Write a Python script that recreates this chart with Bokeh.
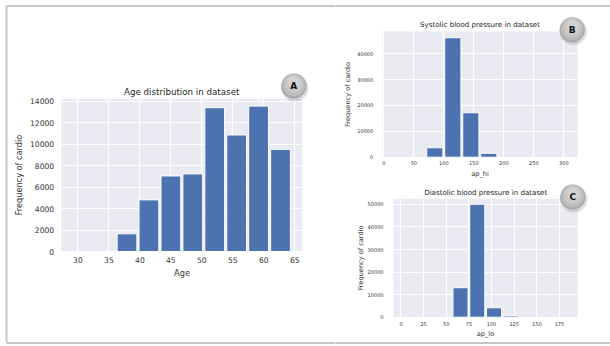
from bokeh.plotting import figure
from bokeh.layouts import row, column
from bokeh.models import Label, FixedTicker, Range1d, LinearAxis, Grid
from bokeh.core.properties import value
from bokeh.embed import file_html
from bokeh.resources import INLINE

# Age distribution (years): bin edges and counts
age_edges = [36.15, 39.69, 43.23, 46.77, 50.31, 53.85, 57.39, 60.93, 64.47]
age_counts = [1650, 4810, 7040, 7230, 13400, 10860, 13550, 9520]
age_xticks = [30, 35, 40, 45, 50, 55, 60, 65]
age_yticks = [0, 2000, 4000, 6000, 8000, 10000, 12000, 14000]

# Systolic blood pressure (ap_hi)
hi_edges = [70, 100, 130, 160, 190]
hi_counts = [3640, 46200, 17180, 1500]
hi_xticks = [0, 50, 100, 150, 200, 250, 300]
hi_yticks = [0, 10000, 20000, 30000, 40000]

# Diastolic blood pressure (ap_lo)
lo_edges = [56.5, 75, 93.5, 112, 130.5]
lo_counts = [13070, 50090, 4180, 600]
lo_xticks = [0, 25, 50, 75, 100, 125, 150, 175]
lo_yticks = [0, 10000, 20000, 30000, 40000, 50000]

BAR = "#4c72b0"
BG = "#eaeaf2"
TXT = "#333333"
FONT = "DejaVu Sans"
RULE = "#c6c6c6"


class Panel:
    """A figure whose canvas is all frame; the axes box sits at a fixed pixel rect."""

    def __init__(self, page_box, plot_box, xr, yr):
        ox, oy, W, H = page_box
        pl, pr, pt, pb = plot_box
        x0, x1 = xr
        y0, y1 = yr
        sx = (pr - pl) / (x1 - x0)
        sy = (pb - pt) / (y1 - y0)
        self.ox, self.oy, self.sx, self.sy = ox, oy, sx, sy
        self.xs = x0 - (pl - ox) / sx
        xe = x1 + (ox + W - pr) / sx
        ys = y0 - (oy + H - pb) / sy
        self.ye = y1 + (pt - oy) / sy
        self.xr, self.yr = xr, yr
        self.p = figure(width=W, height=H, output_backend="svg",
                        toolbar_location=None, title_location=None,
                        x_range=Range1d(self.xs, xe), y_range=Range1d(ys, self.ye),
                        x_axis_location=None, y_axis_location=None, min_border=0,
                        background_fill_color="white", border_fill_color="white",
                        outline_line_color=None)
        for g in list(self.p.grid):
            g.visible = False

    def at(self, px, py):
        """Page pixel -> data coordinates of this panel."""
        return (self.xs + (px - self.ox) / self.sx,
                self.ye - (py - self.oy) / self.sy)

    def axes(self, xticks, yticks, xlabel, tick_fs, label_fs, stand):
        p = self.p
        (x0, x1), (y0, y1) = self.xr, self.yr
        p.quad(left=[x0], right=[x1], bottom=[y0], top=[y1],
               fill_color=BG, line_color=None, level="image")
        for dim, ticks, bounds, cross in ((0, xticks, (x0, x1), (y0, y1)),
                                          (1, yticks, (y0, y1), (x0, x1))):
            p.add_layout(Grid(dimension=dim, ticker=FixedTicker(ticks=ticks),
                              bounds=bounds, cross_bounds=cross,
                              grid_line_color="white", grid_line_width=1.2))
        xa = LinearAxis(fixed_location=y0, bounds=(x0, x1),
                        ticker=FixedTicker(ticks=xticks), axis_label=xlabel)
        ya = LinearAxis(fixed_location=x0, bounds=(y0, y1),
                        ticker=FixedTicker(ticks=yticks),
                        axis_label="Frequency of cardio")
        for ax in (xa, ya):
            ax.axis_line_color = None
            ax.major_tick_line_color = None
            ax.minor_tick_line_color = None
            ax.major_tick_out = 0
            ax.major_tick_in = 0
            ax.major_label_text_font = FONT
            ax.major_label_text_font_size = tick_fs
            ax.major_label_text_color = TXT
            ax.axis_label_text_font = FONT
            ax.axis_label_text_font_size = label_fs
            ax.axis_label_text_font_style = "normal"
            ax.axis_label_text_color = TXT
        xa.major_label_standoff = stand["xtick"]
        ya.major_label_standoff = stand["ytick"]
        xa.axis_label_standoff = stand["xlab"]
        ya.axis_label_standoff = stand["ylab"]
        p.add_layout(xa, "below")
        p.add_layout(ya, "left")

    def title(self, text, px, py, fs):
        x, y = self.at(px, py)
        self.p.add_layout(Label(x=x, y=y, text=text, text_font=FONT,
                                text_font_size=fs, text_color="#262626",
                                text_align="center", text_baseline="middle"))

    def bars(self, edges, counts, rwidth=0.9):
        lefts, rights = [], []
        for i in range(len(counts)):
            w = edges[i + 1] - edges[i]
            pad = (1 - rwidth) / 2 * w
            lefts.append(edges[i] + pad)
            rights.append(edges[i + 1] - pad)
        self.p.quad(left=lefts, right=rights, bottom=0, top=counts,
                    fill_color=BAR, line_color="white", line_width=1)

    def rule(self, ax, ay, bx, by):
        (x0, y0), (x1, y1) = self.at(ax, ay), self.at(bx, by)
        self.p.segment(x0=[x0], y0=[y0], x1=[x1], y1=[y1],
                       line_color=RULE, line_width=2)

    def badge(self, px, py, letter):
        p = self.p
        discs = [((1, 1.6), 13.6, "#9a9a9a", 0.35),
                 ((0, 0), 12.6, "#ababab", 1.0),
                 ((0, -1.0), 11.2, "#bdbdbd", 1.0),
                 ((0, -2.2), 9.0, "#c9c9c9", 1.0),
                 ((0, -3.6), 6.0, "#d3d3d3", 0.9)]
        for (dx, dy), r, col, a in discs:
            x, y = self.at(px + dx, py + dy)
            p.circle(x=[x], y=[y], radius=r, radius_units="screen",
                     fill_color=col, fill_alpha=a, line_color=None,
                     level="overlay")
        x, y = self.at(px, py)
        p.text(x=[x], y=[y], text=[letter], text_font=value(FONT),
               text_font_size="9px", text_font_style="bold",
               text_color="#111111", text_align="center",
               text_baseline="middle", level="overlay")


# Panel A: age
A = Panel((0, 0, 335, 346), (60.7, 301.7, 98.3, 251.0), (27.3, 66.2), (0, 14230))
A.axes(age_xticks, age_yticks, "Age", "7.6px", "8.2px",
       dict(xtick=5, ytick=7, xlab=2, ylab=3))
A.bars(age_edges, age_counts)
A.title("Age distribution in dataset", 181.2, 91.0, "8.7px")
A.rule(6, 5.5, 340, 5.5)
A.rule(6, 5.5, 6, 342.5)
A.rule(6, 342.5, 340, 342.5)
A.badge(293.3, 85.7, "A")

# Panel B: systolic
B = Panel((335, 0, 275, 180), (381.7, 577.3, 31.0, 156.7), (-2.7, 323.3), (0, 48600))
B.axes(hi_xticks, hi_yticks, "ap_hi", "5px", "6.6px",
       dict(xtick=4, ytick=9, xlab=1, ylab=3))
B.bars(hi_edges, hi_counts)
B.title("Systolic blood pressure in dataset", 479.5, 24.3, "7.1px")
B.rule(330, 5.5, 620, 5.5)
B.badge(571.7, 29.3, "B")

# Panel C: diastolic
C = Panel((335, 180, 275, 166), (393.0, 577.3, 198.3, 316.7), (-8.25, 195.25), (0, 52500))
C.axes(lo_xticks, lo_yticks, "ap_lo", "5px", "6.6px",
       dict(xtick=5, ytick=10, xlab=0, ylab=0))
C.bars(lo_edges, lo_counts)
C.title("Diastolic blood pressure in dataset", 485.2, 191.7, "7.1px")
C.rule(330, 342.5, 620, 342.5)
C.badge(572.3, 196.7, "C")

layout = row(A.p, column(B.p, C.p))
open("out.html", "w").write(file_html(layout, INLINE))
